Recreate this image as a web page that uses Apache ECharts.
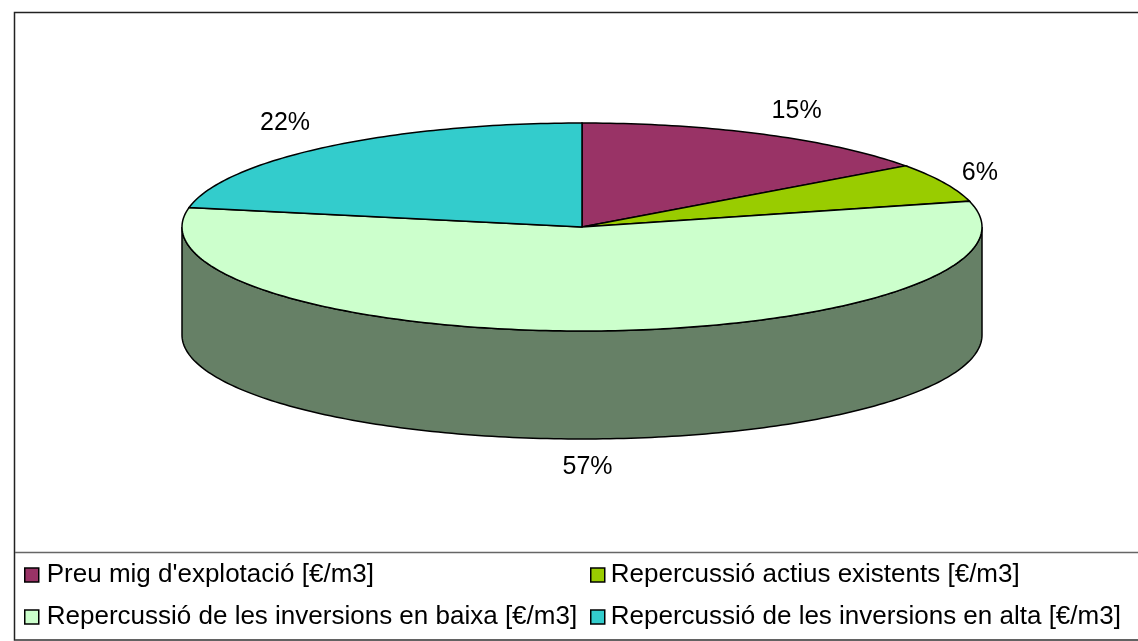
<!DOCTYPE html>
<html>
<head>
<meta charset="utf-8">
<title>Repercussió</title>
<style>
  html, body { margin: 0; padding: 0; background: #fff; }
  #chart { width: 1138px; height: 641px; }
</style>
<script src="https://cdn.jsdelivr.net/npm/echarts@6/dist/echarts.min.js"></script>
</head>
<body>
<div id="chart"></div>
<script>
const categories = [
  "Preu mig d'explotació [€/m3]",
  'Repercussió actius existents [€/m3]',
  'Repercussió de les inversions en baixa [€/m3]',
  'Repercussió de les inversions en alta [€/m3]'
]
const values = [15, 6, 57, 22]
const topColors = ['#993366', '#99cc00', '#ccffcc', '#33cccc']
const sideColors = ['#4d1a33', '#668000', '#668066', '#1a6666']

// pie geometry, in pixels
const cx = 582
const cy = 227
const rx = 400
const ry = 104
const depth = 108
// where each percentage sits, relative to the rim at the middle of its slice
const labelOffsets = [[33, -23], [36, -10], [-7, 136], [-42, -24]]

const total = values.reduce((a, b) => a + b, 0)

function rim(deg, dy) {
  const a = deg * Math.PI / 180
  return [cx + rx * Math.sin(a), cy - ry * Math.cos(a) + (dy || 0)]
}

function arc(from, to, dy) {
  const pts = []
  const n = Math.max(2, Math.ceil(Math.abs(to - from)))
  for (let i = 0; i <= n; i++) {
    pts.push(rim(from + (to - from) * i / n, dy))
  }
  return pts
}

function makeRender(idx) {
  return function (params, api) {
    const before = values.slice(0, idx).reduce((a, b) => a + b, 0)
    const start = before / total * 360
    const end = start + api.value(0) / total * 360
    const children = []

    // only the front half of the wall can be seen
    const from = Math.max(start, 90)
    const to = Math.min(end, 270)
    if (to > from) {
      children.push({
        type: 'polygon',
        shape: { points: arc(from, to, 0).concat(arc(to, from, depth)) },
        style: { fill: sideColors[idx], stroke: '#000', lineWidth: 1.5 }
      })
    }

    children.push({
      type: 'polygon',
      shape: { points: [[cx, cy]].concat(arc(start, end, 0)) },
      style: { fill: topColors[idx], stroke: '#000', lineWidth: 1.5 }
    })

    const mid = rim((start + end) / 2, 0)
    children.push({
      type: 'text',
      style: {
        text: Math.round(api.value(0) / total * 100) + '%',
        x: mid[0] + labelOffsets[idx][0],
        y: mid[1] + labelOffsets[idx][1],
        fill: '#000',
        font: '25px "Liberation Sans", Arial, sans-serif',
        textAlign: 'center',
        textVerticalAlign: 'middle'
      }
    })
    return { type: 'group', children: children }
  }
}

const chart = echarts.init(document.getElementById('chart'), null, { renderer: 'canvas' })

const legendStyle = {
  orient: 'vertical',
  itemWidth: 14,
  itemHeight: 14,
  itemGap: 16,
  selectedMode: false,
  icon: 'rect',
  itemStyle: { borderColor: '#000', borderWidth: 1.5 },
  // bottom padding lifts the text a little above its swatch
  textStyle: { fontFamily: '"Liberation Sans", Arial, sans-serif', fontSize: 26, color: '#000', padding: [0, 0, 6, 1] }
}

chart.setOption({
  animation: false,
  backgroundColor: '#fff',
  legend: [
    Object.assign({}, legendStyle, {
      left: 19,
      top: 557,
      data: [categories[0], categories[2]],
      textStyle: Object.assign({}, legendStyle.textStyle, { padding: [0, 0, 6, 3] })
    }),
    Object.assign({}, legendStyle, { left: 585, top: 557, data: [categories[1], categories[3]] })
  ],
  graphic: [
    {
      type: 'rect', silent: true, z: -1,
      shape: { x: 14.5, y: 12.5, width: 1130, height: 627.5 },
      style: { fill: 'none', stroke: '#222', lineWidth: 1.5 }
    },
    {
      type: 'line', silent: true, z: -1,
      shape: { x1: 15, y1: 552.5, x2: 1138, y2: 552.5 },
      style: { stroke: '#666', lineWidth: 1.5 }
    },
    {
      type: 'line', silent: true, z: -1,
      shape: { x1: 15, y1: 640, x2: 1138, y2: 640 },
      style: { stroke: '#666', lineWidth: 1.5 }
    }
  ],
  series: categories.map((name, i) => ({
    type: 'custom',
    name: name,
    coordinateSystem: 'none',
    itemStyle: { color: topColors[i] },
    renderItem: makeRender(i),
    data: [[values[i]]]
  }))
})
</script>
</body>
</html>
